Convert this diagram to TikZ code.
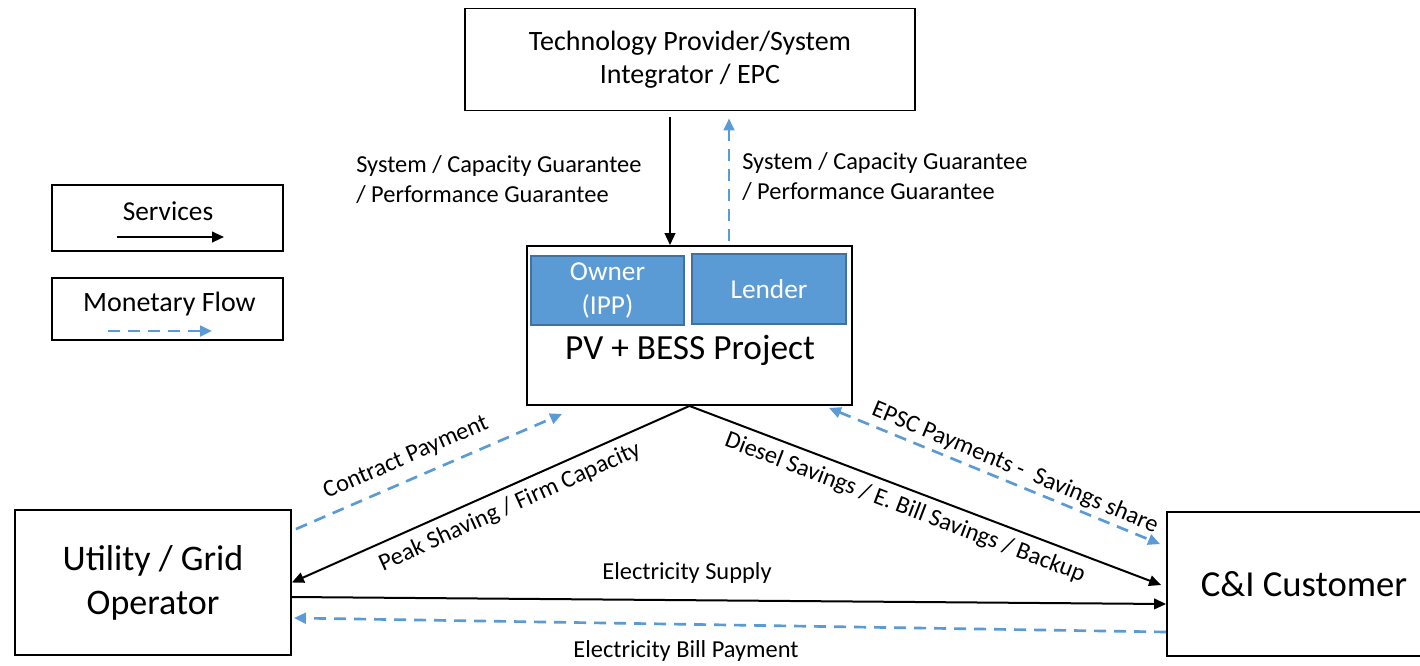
\documentclass[tikz,border=0pt]{standalone}
\usepackage{fontspec}
\setmainfont{Carlito}
\usetikzlibrary{arrows.meta,calc}
\definecolor{flowblue}{HTML}{5B9BD5}
\definecolor{boxedge}{HTML}{41719C}

\begin{document}
\begin{tikzpicture}[x=0.75pt,y=-0.75pt,
  box/.style={draw=black, line width=1.4pt, inner sep=0pt, align=center},
  rolebox/.style={draw=boxedge, fill=flowblue, line width=1pt, text=white,
    align=center, inner sep=0pt, font=\fontsize{20.5}{25.5}\selectfont},
  service/.style={draw=black, line width=1.5pt, -{Triangle[length=9pt,width=8pt]}},
  money/.style={draw=flowblue, line width=2pt, dash pattern=on 9pt off 6pt,
    -{Triangle[length=9pt,width=8pt]}},
  lbl/.style={font=\fontsize{18.3}{22.5}\selectfont, inner sep=0pt},
]
\clip (0,0) rectangle (1420,665);
\fill[white] (0,0) rectangle (1420,665);

% main parties
\node[box, minimum width=337.5pt, minimum height=76.5pt,
  font=\fontsize{21}{24.75}\selectfont] (tech) at (690,59.5)
  {Technology Provider/System\\Integrator / EPC};
\node[box, minimum width=243.75pt, minimum height=119.25pt] (pv) at (689.5,325.5) {};
\node[rolebox, minimum width=114.75pt, minimum height=51.75pt] (owner) at (607.5,290.5)
  {\raisebox{-3pt}{\begin{tabular}{@{}c@{}}Owner\\(IPP)\end{tabular}}};
\node[rolebox, minimum width=115.5pt, minimum height=52.5pt] (lender) at (769,289)
  {\raisebox{-1.5pt}{Lender}};
\node[font=\fontsize{26.5}{30}\selectfont, inner sep=0pt] (pvtitle) at (690,350) {PV + BESS Project};
\node[box, minimum width=207pt, minimum height=108.75pt,
  font=\fontsize{27}{33}\selectfont] (util) at (153,582.5) {Utility / Grid\\Operator};
\node[box, minimum width=205.5pt, minimum height=108pt,
  font=\fontsize{27.5}{33}\selectfont] (cust) at (1304,584) {C\&I Customer};

% legend
\node[box, minimum width=173.25pt, minimum height=49.5pt] (svcleg) at (167.5,218) {};
\node[font=\fontsize{20.5}{24}\selectfont, inner sep=0pt] (svctxt) at (168,211) {Services};
\coordinate (svcA) at ($(svcleg)+(-50.5,19)$);
\coordinate (svcB) at ($(svcleg)+(56.5,19)$);
\draw[service] (svcA) -- (svcB);

\node[box, minimum width=173.25pt, minimum height=46.5pt] (monleg) at (167.5,309) {};
\node[font=\fontsize{21}{24}\selectfont, inner sep=0pt] (montxt) at (169.5,304) {Monetary Flow};
\coordinate (monA) at ($(monleg)+(-59.5,22)$);
\coordinate (monB) at ($(monleg)+(44.5,22)$);
\draw[money] (monA) -- (monB);

% technology provider <-> project
\draw[service] ($(tech.south)+(-20,6)$) -- ($(pv.north)+(-19.5,0)$);
\draw[money] ($(pv.north)+(39.5,-4)$) -- ($(tech.south)+(39,7)$);
\node[lbl, anchor=west, align=left] (guarL) at (356,180)
  {System / Capacity Guarantee\\/ Performance Guarantee};
\node[lbl, anchor=west, align=left] (guarR) at (742,177)
  {System / Capacity Guarantee\\/ Performance Guarantee};

% project -> utility
\draw[service] (pv.south) -- (util.east);
\draw[money] ($(util.north east)+(4,20)$) -- ($(pv.south west)+(36,8)$);
\node[lbl, rotate=23.6] (contract) at (406,458) {Contract Payment};
\node[lbl, rotate=24.2] (peak) at (510,507) {Peak Shaving / Firm Capacity};

% project -> customer
\draw[service] (pv.south) -- ($(cust.west)+(-5,1)$);
\draw[money, {Triangle[length=9pt,width=8pt]}-{Triangle[length=9pt,width=8pt]}]
  ($(pv.south east)+(-24,2)$) -- ($(cust.north west)+(-6,33)$);
\node[lbl, rotate=-20.8] (diesel) at (905,508) {Diesel Savings / E. Bill Savings / Backup};
\node[lbl, rotate=-22.6] (epsc) at (1015,468) {EPSC Payments -\ \ Savings share};

% utility <-> customer
\draw[service] ($(util.east)+(0,14.5)$) -- ($(cust.west)+(0,20)$);
\draw[money] ($(cust.west)+(0,48)$) -- ($(util.east)+(2,35.5)$);
\node[lbl] (supply) at (687,573) {Electricity Supply};
\node[lbl] (bill) at (686,651) {Electricity Bill Payment};
\end{tikzpicture}
\end{document}
